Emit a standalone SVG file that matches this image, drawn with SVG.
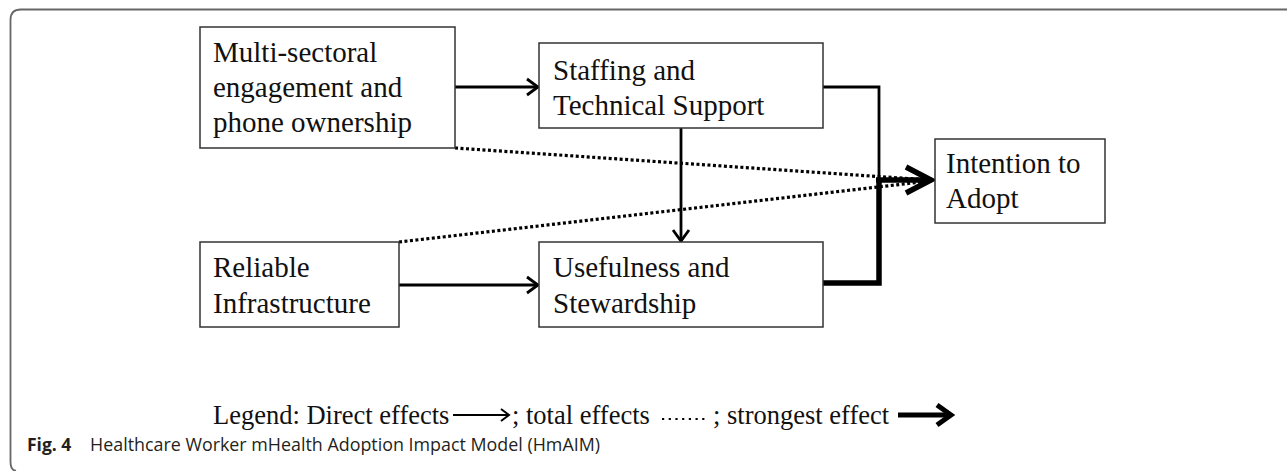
<svg xmlns="http://www.w3.org/2000/svg" width="1287" height="471" viewBox="0 0 1287 471">
<style>
.box{fill:#fff;stroke:#333;stroke-width:1.5}
.t{font-family:"Liberation Serif","Times New Roman",serif;font-size:29px;fill:#111}
.lg{font-family:"Liberation Serif","Times New Roman",serif;font-size:26.5px;fill:#111}
.thin{fill:none;stroke:#000;stroke-width:2.8;stroke-linejoin:miter}
.thick{fill:none;stroke:#000;stroke-width:5.5;stroke-linejoin:miter}
.dot{fill:none;stroke:#000;stroke-width:3.2;stroke-dasharray:3 2.5}
.cap{font-family:"Open Sans","Noto Sans",sans-serif;font-size:17.5px;fill:#231f20}
</style>
<rect width="1287" height="471" fill="#fff"/>
<path d="M1287,9.5 H21 Q10.5,9.5 10.5,20 V462 Q10.5,470 16,471" fill="none" stroke="#666" stroke-width="1.8"/>
<g id="connectors">
<path class="thin" d="M455,87 H537"/>
<path class="thin" d="M527,79 L538,87 L527,95"/>
<path class="thin" d="M681,128 V240"/>
<path class="thin" d="M673,230 L681,241 L689,230"/>
<path class="thin" d="M399,285 H537"/>
<path class="thin" d="M527,277 L538,285 L527,293"/>
<path class="dot" d="M455,148 L930,180"/>
<path class="dot" d="M399,242 L930,181"/>
<path class="thin" d="M823,87 H879 V180"/>
<path class="thick" d="M823,283 H879 V178"/>
<path class="thick" d="M876,180 H930"/>
<path class="thick" d="M906,167 L931,180 L906,193"/>
</g>
<g id="n1"><rect class="box" x="200" y="27" width="255" height="121"/>
<text class="t" x="213" y="62">Multi-sectoral</text>
<text class="t" x="213" y="97">engagement and</text>
<text class="t" x="213" y="132">phone ownership</text></g>
<g id="n2"><rect class="box" x="539" y="43" width="284" height="85"/>
<text class="t" x="553" y="80">Staffing and</text>
<text class="t" x="553" y="115">Technical Support</text></g>
<g id="n3"><rect class="box" x="200" y="242" width="199" height="85"/>
<text class="t" x="213" y="277">Reliable</text>
<text class="t" x="213" y="313">Infrastructure</text></g>
<g id="n4"><rect class="box" x="539" y="242" width="284" height="85"/>
<text class="t" x="553" y="277">Usefulness and</text>
<text class="t" x="553" y="313">Stewardship</text></g>
<g id="n5"><rect class="box" x="935" y="139" width="170" height="84"/>
<text class="t" x="946" y="173">Intention to</text>
<text class="t" x="946" y="208">Adopt</text></g>
<g id="legend">
<text class="lg" x="213" y="424">Legend: Direct effects</text>
<path fill="none" stroke="#000" stroke-width="2" d="M453,415 H508"/>
<path fill="none" stroke="#000" stroke-width="2" d="M501,409 L509,415 L501,421"/>
<text class="lg" x="512" y="424">; total effects</text>
<path fill="none" stroke="#000" stroke-width="2.2" stroke-dasharray="2.2 4.5" d="M662,419 H708"/>
<text class="lg" x="713" y="424">; strongest effect</text>
<path fill="none" stroke="#000" stroke-width="5" d="M898,415 H950"/>
<path fill="none" stroke="#000" stroke-width="5" d="M937,405 L951,415 L937,425"/>
</g>
<text class="cap" x="27" y="451" font-weight="bold">Fig. 4</text>
<text class="cap" x="90" y="451" textLength="510" lengthAdjust="spacingAndGlyphs">Healthcare Worker mHealth Adoption Impact Model (HmAIM)</text>
</svg>
